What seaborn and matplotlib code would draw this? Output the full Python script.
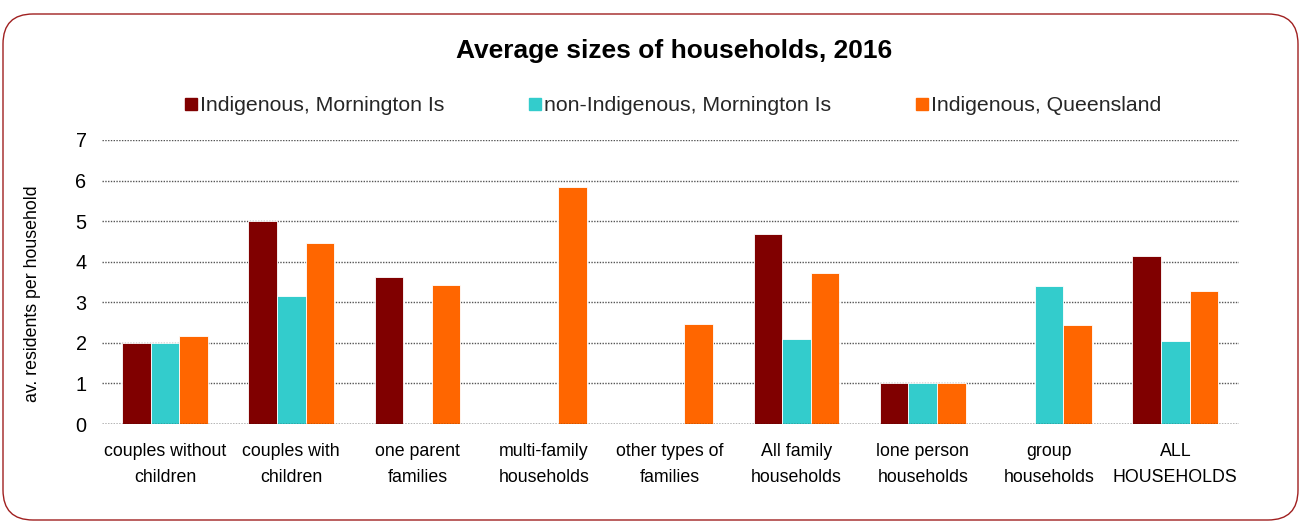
import numpy as np
import pandas as pd
import matplotlib
matplotlib.use("Agg")
import matplotlib.pyplot as plt
import seaborn as sns
from matplotlib.patches import FancyBboxPatch
from matplotlib.lines import Line2D
from matplotlib.transforms import IdentityTransform
from matplotlib import font_manager

# ---- data -------------------------------------------------------------
categories = [
    "couples without\nchildren",
    "couples with\nchildren",
    "one parent\nfamilies",
    "multi-family\nhouseholds",
    "other types of\nfamilies",
    "All family\nhouseholds",
    "lone person\nhouseholds",
    "group\nhouseholds",
    "ALL\nHOUSEHOLDS",
]
series = [
    "Indigenous, Mornington Is",
    "non-Indigenous, Mornington Is",
    "Indigenous, Queensland",
]
indigenous_mornington = [2.00, 5.00, 3.62, np.nan, np.nan, 4.68, 1.00, np.nan, 4.13]
non_indigenous_mornington = [2.00, 3.16, np.nan, np.nan, np.nan, 2.10, 1.00, 3.40, 2.05]
indigenous_queensland = [2.18, 4.45, 3.43, 5.84, 2.47, 3.71, 1.00, 2.45, 3.27]
y_ticks = [0, 1, 2, 3, 4, 5, 6, 7]

colors = ["#800000", "#33CCCC", "#FF6600"]

rows = []
for name, vals in zip(series, [indigenous_mornington, non_indigenous_mornington, indigenous_queensland]):
    for cat, v in zip(categories, vals):
        if not np.isnan(v):
            rows.append({"category": cat, "series": name, "value": v})
df = pd.DataFrame(rows)

# ---- fonts ------------------------------------------------------------
sns.set_theme(style="white")
installed = {f.name for f in font_manager.fontManager.ttflist}
narrow = "Liberation Sans Narrow" if "Liberation Sans Narrow" in installed else "Liberation Sans"
axis_size = 15.4 if narrow == "Liberation Sans Narrow" else 12.8
plt.rcParams["font.family"] = ["Liberation Sans", "DejaVu Sans"]

# ---- figure -----------------------------------------------------------
fig = plt.figure(figsize=(13.01, 5.22), dpi=100)
ax = fig.add_axes([101.8 / 1301, 1 - 424 / 522, (1238.5 - 101.8) / 1301, (424 - 140) / 522])

sns.barplot(
    data=df, x="category", y="value", hue="series",
    order=categories, hue_order=series, palette=colors,
    width=0.68, dodge=True, saturation=1,
    edgecolor="#ffffff", linewidth=0.6, errorbar=None, legend=False, ax=ax,
)

ax.set_ylim(0, 7)
ax.set_yticks(y_ticks)
ax.set_xlim(-0.5, len(categories) - 0.5)
ax.set_xlabel("")
ax.set_ylabel("")
for s in ax.spines.values():
    s.set_visible(False)
ax.set_axisbelow(True)
ax.yaxis.grid(True, linestyle=(0, (1, 1)), color="#555555", linewidth=1.0)
ax.axhline(0, linestyle=(0, (1, 1)), color="#111111", linewidth=1.0, zorder=3)
ax.tick_params(axis="both", length=0)
ax.tick_params(axis="y", pad=11)
ax.tick_params(axis="x", pad=14)
for lab in ax.get_xticklabels() + ax.get_yticklabels():
    lab.set_fontfamily([narrow, "DejaVu Sans"])
    lab.set_fontsize(axis_size)
    lab.set_color("#000000")
for lab in ax.get_yticklabels():
    lab.set_fontsize(axis_size + 1.5)
for lab in ax.get_xticklabels():
    lab.set_linespacing(1.62)

fig.text(33 / 1301, 1 - 294 / 522, "av. residents per household",
         rotation=90, ha="center", va="center",
         family=[narrow, "DejaVu Sans"], fontsize=axis_size, color="#000000")

fig.text(674 / 1301, 1 - 51 / 522, "Average sizes of households, 2016",
         ha="center", va="center", fontsize=19, fontweight="bold", color="#000000")

handles = [Line2D([], [], marker="s", linestyle="", markersize=8.6,
                  markerfacecolor=c, markeredgecolor=c) for c in colors]
fig.legend(handles, series, loc="center", bbox_to_anchor=(673 / 1301, 1 - 106 / 522),
           ncol=3, frameon=False, fontsize=15.3, columnspacing=4.0,
           handlelength=0.6, handletextpad=0.1, borderaxespad=0)

border = FancyBboxPatch((3, 2), 1295, 506, boxstyle="round,pad=0,rounding_size=30",
                        transform=IdentityTransform(), facecolor="none",
                        edgecolor="#A02020", linewidth=1.0)
fig.add_artist(border)

fig.savefig("out.png", dpi=100, facecolor="white")
